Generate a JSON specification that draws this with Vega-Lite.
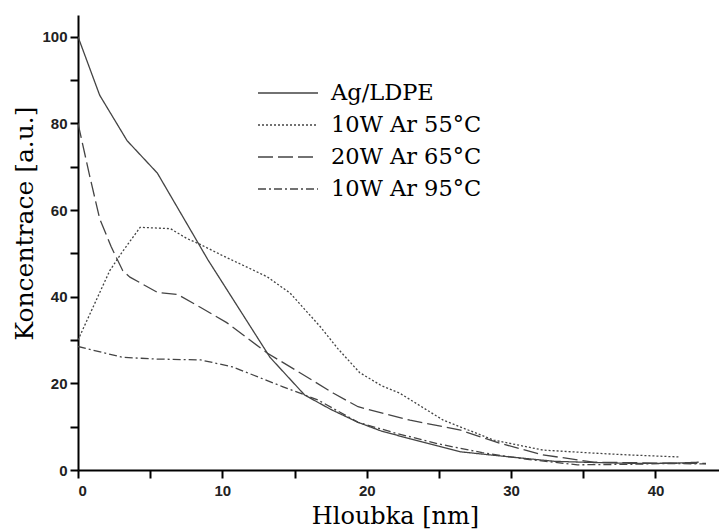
{
  "$schema": "https://vega.github.io/schema/vega-lite/v6.json",
  "width": 641,
  "height": 455,
  "autosize": {"type": "none"},
  "padding": {"left": 78, "top": 15, "right": 0, "bottom": 59},
  "background": "white",
  "config": {
    "view": {"stroke": null},
    "axis": {"domain": true, "ticks": true, "domainColor": "#000000", "domainWidth": 2, "domainOpacity": 1, "tickColor": "#000000", "tickWidth": 2, "tickOpacity": 1, "tickSize": 8, "grid": false}
  },
  "data": {"values": [
    {"s": "Ag/LDPE", "x": 0, "y": 100},
    {"s": "Ag/LDPE", "x": 1.5, "y": 86.5},
    {"s": "Ag/LDPE", "x": 3.4, "y": 76},
    {"s": "Ag/LDPE", "x": 5.5, "y": 68.5},
    {"s": "Ag/LDPE", "x": 9, "y": 48.5},
    {"s": "Ag/LDPE", "x": 13.3, "y": 26},
    {"s": "Ag/LDPE", "x": 15.7, "y": 17.3},
    {"s": "Ag/LDPE", "x": 17.5, "y": 14},
    {"s": "Ag/LDPE", "x": 19.4, "y": 11},
    {"s": "Ag/LDPE", "x": 21, "y": 9},
    {"s": "Ag/LDPE", "x": 23, "y": 7.2},
    {"s": "Ag/LDPE", "x": 25, "y": 5.5},
    {"s": "Ag/LDPE", "x": 26.5, "y": 4.2},
    {"s": "Ag/LDPE", "x": 28.5, "y": 3.5},
    {"s": "Ag/LDPE", "x": 30, "y": 3},
    {"s": "Ag/LDPE", "x": 33, "y": 2},
    {"s": "Ag/LDPE", "x": 36, "y": 1.7},
    {"s": "Ag/LDPE", "x": 39, "y": 1.5},
    {"s": "Ag/LDPE", "x": 41.5, "y": 1.6},
    {"s": "Ag/LDPE", "x": 43, "y": 1.8},
    {"s": "10W Ar 55°C", "x": 0, "y": 30},
    {"s": "10W Ar 55°C", "x": 2.2, "y": 46},
    {"s": "10W Ar 55°C", "x": 3, "y": 50},
    {"s": "10W Ar 55°C", "x": 4.3, "y": 56},
    {"s": "10W Ar 55°C", "x": 6.4, "y": 55.7},
    {"s": "10W Ar 55°C", "x": 7.5, "y": 53.5},
    {"s": "10W Ar 55°C", "x": 8.5, "y": 52},
    {"s": "10W Ar 55°C", "x": 10, "y": 49.5},
    {"s": "10W Ar 55°C", "x": 11.9, "y": 46.5},
    {"s": "10W Ar 55°C", "x": 13.1, "y": 44.6},
    {"s": "10W Ar 55°C", "x": 14.7, "y": 40.8},
    {"s": "10W Ar 55°C", "x": 16.8, "y": 33},
    {"s": "10W Ar 55°C", "x": 18, "y": 28},
    {"s": "10W Ar 55°C", "x": 19.5, "y": 22.5},
    {"s": "10W Ar 55°C", "x": 21, "y": 19.5},
    {"s": "10W Ar 55°C", "x": 22.3, "y": 17.7},
    {"s": "10W Ar 55°C", "x": 25.3, "y": 11.5},
    {"s": "10W Ar 55°C", "x": 28.8, "y": 6.9},
    {"s": "10W Ar 55°C", "x": 32.2, "y": 4.6},
    {"s": "10W Ar 55°C", "x": 35.7, "y": 3.9},
    {"s": "10W Ar 55°C", "x": 38, "y": 3.5},
    {"s": "10W Ar 55°C", "x": 41.7, "y": 3.0},
    {"s": "20W Ar 65°C", "x": 0, "y": 80},
    {"s": "20W Ar 65°C", "x": 0.8, "y": 68},
    {"s": "20W Ar 65°C", "x": 1.5, "y": 58},
    {"s": "20W Ar 65°C", "x": 2.3, "y": 51.5},
    {"s": "20W Ar 65°C", "x": 3.1, "y": 46},
    {"s": "20W Ar 65°C", "x": 3.6, "y": 44.5},
    {"s": "20W Ar 65°C", "x": 5.5, "y": 41},
    {"s": "20W Ar 65°C", "x": 6.9, "y": 40.5},
    {"s": "20W Ar 65°C", "x": 8.5, "y": 37.5},
    {"s": "20W Ar 65°C", "x": 10.3, "y": 34},
    {"s": "20W Ar 65°C", "x": 13.1, "y": 27},
    {"s": "20W Ar 65°C", "x": 15.4, "y": 22.4},
    {"s": "20W Ar 65°C", "x": 17.7, "y": 17.7},
    {"s": "20W Ar 65°C", "x": 19.4, "y": 14.6},
    {"s": "20W Ar 65°C", "x": 23, "y": 11.5},
    {"s": "20W Ar 65°C", "x": 26.5, "y": 9.2},
    {"s": "20W Ar 65°C", "x": 29.2, "y": 6.2},
    {"s": "20W Ar 65°C", "x": 32.2, "y": 3.5},
    {"s": "20W Ar 65°C", "x": 35.7, "y": 1.8},
    {"s": "20W Ar 65°C", "x": 40.3, "y": 1.6},
    {"s": "20W Ar 65°C", "x": 43.5, "y": 1.5},
    {"s": "10W Ar 95°C", "x": 0, "y": 28.5},
    {"s": "10W Ar 95°C", "x": 3.1, "y": 26},
    {"s": "10W Ar 95°C", "x": 5.5, "y": 25.6},
    {"s": "10W Ar 95°C", "x": 8.5, "y": 25.4},
    {"s": "10W Ar 95°C", "x": 10.7, "y": 23.8},
    {"s": "10W Ar 95°C", "x": 14.2, "y": 19.2},
    {"s": "10W Ar 95°C", "x": 16.6, "y": 16.2},
    {"s": "10W Ar 95°C", "x": 19.4, "y": 11},
    {"s": "10W Ar 95°C", "x": 22, "y": 8.5},
    {"s": "10W Ar 95°C", "x": 25, "y": 6},
    {"s": "10W Ar 95°C", "x": 28, "y": 4},
    {"s": "10W Ar 95°C", "x": 31, "y": 2.5},
    {"s": "10W Ar 95°C", "x": 34.6, "y": 1.2},
    {"s": "10W Ar 95°C", "x": 38, "y": 1.3},
    {"s": "10W Ar 95°C", "x": 41, "y": 1.5},
    {"s": "10W Ar 95°C", "x": 43.5, "y": 1.4}
  ]},
  "mark": {"type": "line", "color": "#444", "strokeWidth": 1.3, "clip": true},
  "encoding": {
    "x": {
      "field": "x", "type": "quantitative",
      "scale": {"domain": [0, 44.4], "nice": false, "zero": false},
      "axis": {
        "title": "Hloubka [nm]",
        "values": [0, 5, 10, 15, 20, 25, 30, 35, 40],
        "labelExpr": "datum.value % 10 === 0 ? datum.label : ''",
        "labelFont": "Liberation Sans", "labelFontSize": 15, "labelFontWeight": "bold", "labelColor": "#222", "labelPadding": 5,
        "titleFont": "DejaVu Serif", "titleFontSize": 24, "titleFontWeight": "normal", "titleColor": "#000",
        "titleX": 317, "titleY": 53, "titleBaseline": "alphabetic"
      }
    },
    "y": {
      "field": "y", "type": "quantitative",
      "scale": {"domain": [0, 105], "nice": false},
      "axis": {
        "title": "Koncentrace [a.u.]",
        "values": [0, 10, 20, 30, 40, 50, 60, 70, 80, 90, 100],
        "labelExpr": "datum.value % 20 === 0 ? datum.label : ''",
        "labelFont": "Liberation Sans", "labelFontSize": 15, "labelFontWeight": "bold", "labelColor": "#222", "labelPadding": 3,
        "titleFont": "DejaVu Serif", "titleFontSize": 25, "titleFontWeight": "normal", "titleColor": "#000",
        "titleAngle": -90, "titleX": -46, "titleY": 208, "titleBaseline": "alphabetic", "titleAlign": "center"
      }
    },
    "strokeDash": {
      "field": "s", "type": "nominal",
      "scale": {
        "domain": ["Ag/LDPE", "10W Ar 55°C", "20W Ar 65°C", "10W Ar 95°C"],
        "range": [[1, 0], [2, 2], [15, 5], [8, 3, 2, 3]]
      },
      "legend": {
        "orient": "none", "legendX": 179, "legendY": 62,
        "title": null, "padding": 0,
        "symbolType": "stroke", "symbolSize": 3600, "symbolStrokeColor": "#444", "symbolStrokeWidth": 1.3,
        "clipHeight": 32, "rowPadding": 0,
        "labelFont": "DejaVu Serif", "labelFontSize": 22.5, "labelColor": "#000", "labelOffset": 12,
        "labelLimit": 300
      }
    }
  }
}
